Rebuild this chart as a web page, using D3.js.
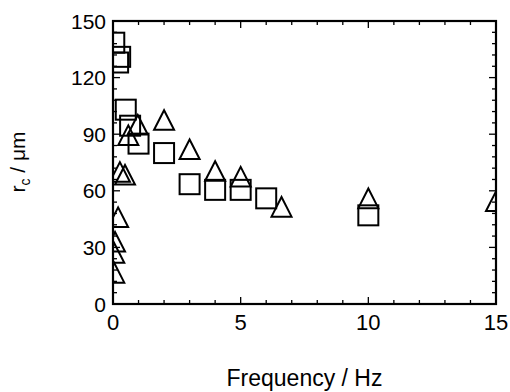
<!DOCTYPE html>
<html><head><meta charset="utf-8">
<script src="https://cdn.jsdelivr.net/npm/d3@7"></script>
<style>body{margin:0;background:#fff}svg{display:block}text{font-family:"Liberation Sans",Arial,sans-serif;fill:#000}</style>
</head><body>
<svg id="c" width="510" height="392"></svg>
<script>
const squareFreq = [0.05, 0.2, 0.28, 0.5, 0.67, 1.0, 2, 3, 4, 5, 6, 10];
const squareRc   = [138.5, 128, 131, 103, 94.5, 85, 80, 63.5, 60.5, 60.5, 56, 47];
const triFreq = [0.05, 0.05, 0.08, 0.2, 0.27, 0.47, 0.6, 0.97, 2, 3, 4, 5, 6.6, 10, 15];
const triRc   = [16.5, 27, 33, 46, 70, 68.5, 89.5, 95, 97.5, 82, 70.5, 67.5, 51.5, 56, 54.5];
const xTicks = [0, 5, 10, 15];
const yTicks = [0, 30, 60, 90, 120, 150];
const xTitle = "Frequency / Hz";

const L = 113, R = 496, T = 21, B = 304;
const svg = d3.select("#c");
const x = d3.scaleLinear().domain([0, 15]).range([L, R]);
const y = d3.scaleLinear().domain([0, 150]).range([B, T]);

svg.append("defs").append("clipPath").attr("id", "clip")
  .append("rect").attr("x", L).attr("y", T).attr("width", R - L).attr("height", B - T);

// ticks (inward, all four sides)
const g = svg.append("g").attr("stroke", "#000").attr("stroke-width", 1.3);
const xMinor = d3.range(0, 15.01, 1);
const yMinor = d3.range(0, 150.01, 6);
xMinor.forEach(v => {
  const len = xTicks.includes(v) ? 7 : 4;
  g.append("line").attr("x1", x(v)).attr("x2", x(v)).attr("y1", B).attr("y2", B - len);
  g.append("line").attr("x1", x(v)).attr("x2", x(v)).attr("y1", T).attr("y2", T + len);
});
yMinor.forEach(v => {
  const len = yTicks.includes(v) ? 7 : 4;
  g.append("line").attr("y1", y(v)).attr("y2", y(v)).attr("x1", L).attr("x2", L + len);
  g.append("line").attr("y1", y(v)).attr("y2", y(v)).attr("x1", R).attr("x2", R - len);
});

// frame
svg.append("rect").attr("x", L).attr("y", T).attr("width", R - L).attr("height", B - T)
  .attr("fill", "none").attr("stroke", "#000").attr("stroke-width", 2.2);

// tick labels
svg.append("g").selectAll("text").data(yTicks).join("text")
  .attr("x", 106).attr("y", d => y(d)).attr("dy", "0.36em")
  .attr("text-anchor", "end").attr("font-size", 21).text(d => d);
svg.append("g").selectAll("text").data(xTicks).join("text")
  .attr("x", d => x(d)).attr("y", 330)
  .attr("text-anchor", "middle").attr("font-size", 22).text(d => d);

// axis titles
svg.append("text").attr("x", (L + R) / 2).attr("y", 386).attr("text-anchor", "middle")
  .attr("font-size", 23).text(xTitle);
const yt = svg.append("text").attr("transform", "translate(25,162) rotate(-90)")
  .attr("text-anchor", "middle").attr("font-size", 21);
yt.append("tspan").text("r");
yt.append("tspan").attr("font-size", 14).attr("dy", 5).text("c");
yt.append("tspan").attr("dy", -5).text(" / μm");

// markers
const mg = svg.append("g").attr("clip-path", "url(#clip)")
  .attr("fill", "none").attr("stroke", "#000").attr("stroke-width", 2);
const sq = 20;
mg.selectAll("rect.sq").data(squareFreq.map((f, i) => [f, squareRc[i]])).join("rect")
  .attr("class", "sq")
  .attr("x", d => x(d[0]) - sq / 2).attr("y", d => y(d[1]) - sq / 2)
  .attr("width", sq).attr("height", sq);
const tw = 10, th = 9.8;
mg.selectAll("path.tri").data(triFreq.map((f, i) => [f, triRc[i]])).join("path")
  .attr("class", "tri")
  .attr("d", d => {
    const cx = x(d[0]), cy = y(d[1]);
    return `M${cx},${cy - th}L${cx + tw},${cy + th}L${cx - tw},${cy + th}Z`;
  });
</script>
</body></html>
